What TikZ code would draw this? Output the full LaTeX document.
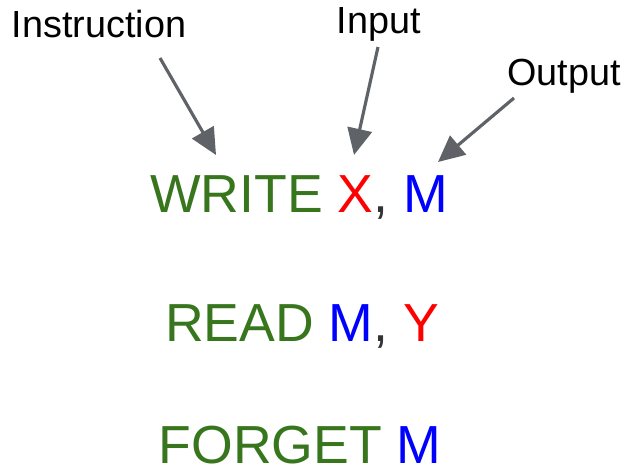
\documentclass[tikz,border=0pt]{standalone}
\usepackage{fontspec}
\setmainfont{Liberation Sans}
\usepackage{xcolor}
\usetikzlibrary{arrows.meta}

\definecolor{opgreen}{HTML}{38761D}
\definecolor{argred}{HTML}{FF0000}
\definecolor{argblue}{HTML}{0000FF}
\definecolor{pointer}{HTML}{5F6368}

\tikzset{
  label/.style={anchor=base, inner sep=0pt, font=\fontsize{21.5}{21.5}\selectfont},
  stmt/.style={anchor=base, inner sep=0pt, text depth=0pt, font=\fontsize{30.5}{30.5}\selectfont},
  ptr/.style={->, draw=pointer, line width=1.8pt},
}
\newcommand{\op}[1]{\textcolor{opgreen}{#1}}
\newcommand{\inp}[1]{\textcolor{argred}{#1}}
\newcommand{\outp}[1]{\textcolor{argblue}{#1}}
\newcommand{\sep}{\textcolor{black!80}{,}}

\begin{document}
\begin{tikzpicture}[x=0.02cm, y=-0.02cm, >={Triangle[length=15pt, width=14pt]}]
\useasboundingbox (0,0) rectangle (625,474);
% the three statements
\node[stmt](S1) at (299,212){\op{WRITE} \inp{X}\sep{} \outp{M}};
\node[stmt](S2) at (302,341){\op{READ} \outp{M}\sep{} \inp{Y}};
\node[stmt](S3) at (300,463){\op{FORGET} \outp{M}};
% labels above the first one
\node[label](L1) at (99,37){Instruction};
\node[label](L2) at (379,33){Input};
\node[label](L3) at (564,85){Output};
\coordinate(T1) at (160,58);
\coordinate(T2) at (378,47);
\coordinate(T3) at (514,98);
\coordinate(H1) at (216,155);
\coordinate(H2) at (354,155);
\coordinate(H3) at (438,162);
\draw[ptr](T1)--(H1);
\draw[ptr](T2)--(H2);
\draw[ptr](T3)--(H3);
\end{tikzpicture}
\end{document}
